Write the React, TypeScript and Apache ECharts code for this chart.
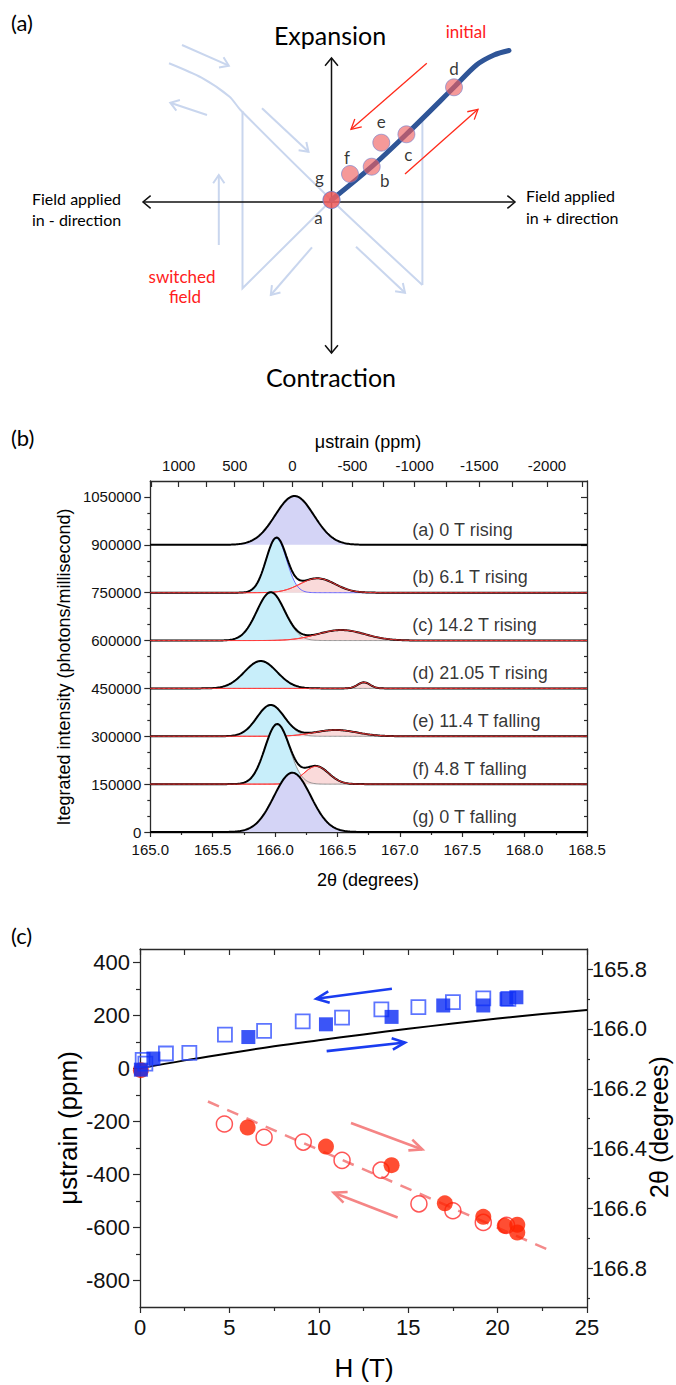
import React, { useEffect, useRef } from "react";
import * as echarts from "echarts";

const FONT = "'Liberation Sans', Arial, Helvetica, sans-serif";
const SCHEME_FONT = "Lato, 'Open Sans', 'DejaVu Sans', sans-serif";

// ---------------- (a) schematic: units = px offsets from the origin, y up ----------------
const stateNames = ["a", "b", "c", "d", "e", "f", "g"];
const stateX = [0, 40.2, 74.9, 122.5, 49.8, 18.5, 0];
const stateY = [2, 35.3, 67.7, 114.7, 59.3, 28, 2];
const pathX = [0, 40.2, 74.9, 122.5, 145, 162.5, 177.5];
const pathY = [2, 35.3, 67.7, 114.7, 137, 147, 151.5];
const ghostCurveX = [-162.5, -130, -101.9, -91, 0, 90.9];
const ghostCurveY = [138.7, 124.3, 105.3, 92, 2, -83];
const ghostEdges = [
  [[-89, 91], [-89, -86.3], [0, 2]],
  [[90.9, 82], [90.9, -83]],
];
const ghostArrows = [
  [[-149.5, 157], [-102.7, 136.3]],
  [[-124.5, 87], [-161.2, 99.3]],
  [[-69.5, 93.7], [-23, 50.3]],
  [[-112.7, -43], [-112.7, 27]],
  [[-19.5, -45.3], [-60.7, -93]],
  [[24.5, -44.7], [73.5, -90.7]],
];
const sweepArrows = [
  [[95.3, 138.7], [19.5, 72.7]],
  [[73.5, 28], [146.5, 92.7]],
];
const fieldAxis = [[-188.5, 0], [183.5, 0]];
const strainAxis = [[0, -151], [0, 144]];
const stateLabelOffset: Record<string, number[]> = {
  a: [-13, 17], b: [13, 14], c: [2, 20], d: [0, -19], e: [0, -21], f: [-3, -17], g: [-12, -23],
};

// ---------------- (b) fitted diffraction peaks ----------------
const traceNames = [
  "(a) 0 T rising", "(b) 6.1 T rising", "(c) 14.2 T rising", "(d) 21.05 T rising",
  "(e) 11.4 T falling", "(f) 4.8 T falling", "(g) 0 T falling",
];
const traceOffsets = [900000, 750000, 600000, 450000, 300000, 150000, 0];
const mainCenter = [166.156, 166.01, 165.965, 165.885, 165.965, 166.017, 166.139];
const mainHeight = [153000, 170000, 151000, 86000, 98000, 188000, 185800];
const mainSigma = [0.155, 0.082, 0.112, 0.13, 0.11, 0.098, 0.147];
const sideCenter = [0, 166.34, 166.53, 166.712, 166.486, 166.33, 0];
const sideHeight = [0, 45000, 33000, 19000, 19700, 56000, 0];
const sideSigma = [0, 0.14, 0.19, 0.05, 0.17, 0.1, 0];
const intensityTicks = [0, 150000, 300000, 450000, 600000, 750000, 900000, 1050000];
const strainTicks = [1000, 500, 0, -500, -1000, -1500, -2000];
const strainMinorTicks = [1250, 750, 250, -250, -750, -1250, -1750, -2250];
const zeroStrainTheta = 166.14;

// ---------------- (c) strain vs field ----------------
const theoryH = [0, 2.5, 5, 7.5, 10, 12.5, 15, 17.5, 20, 22.5, 25];
const theoryStrain = [0, 30, 57, 83, 106, 128, 149, 169, 188, 205, 220];
const fitLineH = [3.8, 23.1];
const fitLineStrain = [-125, -692];
const sqOpenH = [0.15, 0.3, 1.45, 2.76, 4.75, 6.94, 9.1, 11.3, 13.5, 15.57, 17.5, 19.2, 20.6];
const sqOpenStrain = [32, 18, 56, 58, 127, 141, 177, 191, 222, 231, 250, 264, 262];
const sqFilledH = [0.05, 0.75, 6.06, 10.4, 14.07, 16.96, 19.2, 20.5, 21.05];
const sqFilledStrain = [-5, 37, 118, 166, 194, 237, 237, 261, 268];
const cirOpenH = [4.72, 6.94, 9.13, 11.3, 13.48, 15.6, 17.5, 19.2, 20.5];
const cirOpenStrain = [-210, -260, -278, -347, -384, -511, -537, -581, -592];
const cirFilledH = [0.05, 6.02, 10.4, 14.07, 17.05, 19.2, 20.4, 21.1, 21.1];
const cirFilledStrain = [-7, -223, -295, -365, -509, -560, -594, -590, -619];
const blueArrows = [[[14.09, 300], [9.86, 262.5]], [[10.44, 65], [14.82, 97.5]]];
const redArrows = [[[11.8, -206], [15.79, -306]], [[14.41, -562.5], [10.83, -469]]];
const strainLabelValues = [-800, -600, -400, -200, 0, 200, 400];
const strainMinorValues = [-700, -500, -300, -100, 100, 300];
const thetaLabelValues = [165.8, 166.0, 166.2, 166.4, 166.6, 166.8];
const thetaMinorValues = [165.9, 166.1, 166.3, 166.5, 166.7, 166.9];

// ---------------- layout ----------------
const GA = { left: 131.5, top: 42, width: 400, height: 320 };
const GB = { left: 150.3, top: 481, width: 436.7, height: 351 };
const GC = { left: 140, top: 949, width: 447, height: 358 };
const C_MIN_STRAIN = -900, C_MAX_STRAIN = 450;

function strainToTheta(ppm: number) {
  const th0 = ((zeroStrainTheta / 2) * Math.PI) / 180;
  const s = Math.sin(th0) / (1 + ppm * 1e-6);
  return (2 * Math.asin(s) * 180) / Math.PI;
}
function thetaToStrain(t: number) {
  const th0 = ((zeroStrainTheta / 2) * Math.PI) / 180;
  const th = ((t / 2) * Math.PI) / 180;
  return Math.round(((Math.sin(th0) / Math.sin(th) - 1) * 1e6) / 50) * 50;
}

// open chevron head at the end of segment s->e; kx, ky = px per data unit
function chevron(s: number[], e: number[], kx: number, ky: number, len: number, ang: number) {
  const dx = (e[0] - s[0]) * kx, dy = (e[1] - s[1]) * ky;
  const L = Math.hypot(dx, dy);
  const bx = -dx / L, by = -dy / L;
  const rot = (a: number) => [
    e[0] + ((bx * Math.cos(a) - by * Math.sin(a)) * len) / kx,
    e[1] + ((bx * Math.sin(a) + by * Math.cos(a)) * len) / ky,
  ];
  return [rot(ang), e, rot(-ang)];
}
function arrowCoords(list: number[][][], kx: number, ky: number, len: number, ang: number, both = false) {
  const out: any[] = [];
  list.forEach(([s, e]) => {
    out.push({ coords: [s, e] });
    out.push({ coords: chevron(s, e, kx, ky, len, ang) });
    if (both) out.push({ coords: chevron(e, s, kx, ky, len, ang) });
  });
  return out;
}
const zip = (xs: number[], ys: number[]) => xs.map((x, i) => [x, ys[i]]);
const gauss = (t: number, c: number, h: number, s: number) =>
  h * Math.exp(-((t - c) * (t - c)) / (2 * s * s));

function buildOption() {
  const series: any[] = [];
  const pxA = { xAxisIndex: 0, yAxisIndex: 0 };

  // ----- (a) -----
  series.push({
    type: "line", ...pxA, data: zip(ghostCurveX, ghostCurveY), smooth: 0.25,
    showSymbol: false, silent: true, lineStyle: { color: "#c9d6ee", width: 2 }, z: 1,
  });
  series.push({
    type: "lines", coordinateSystem: "cartesian2d", ...pxA, polyline: true, silent: true, z: 1,
    lineStyle: { color: "#c9d6ee", width: 2, opacity: 1 },
    data: [...ghostEdges.map((c) => ({ coords: c })), ...arrowCoords(ghostArrows, 1, 1, 10, 0.6)],
  });
  series.push({
    type: "lines", coordinateSystem: "cartesian2d", ...pxA, polyline: true, silent: true, z: 2,
    lineStyle: { color: "#111", width: 1.5, opacity: 1 },
    data: arrowCoords([fieldAxis as any, strainAxis as any], 1, 1, 10, 0.7, true),
  });
  series.push({
    type: "line", ...pxA, data: zip(pathX, pathY), smooth: 0.3, showSymbol: false, silent: true,
    lineStyle: { color: "#2f5597", width: 5, cap: "round" }, z: 3,
  });
  series.push({
    type: "lines", coordinateSystem: "cartesian2d", ...pxA, polyline: true, silent: true, z: 3,
    lineStyle: { color: "#ff2a1a", width: 1.3, opacity: 1 },
    data: arrowCoords(sweepArrows, 1, 1, 11, 0.5),
  });
  series.push({
    type: "scatter", ...pxA, symbol: "circle", symbolSize: 17, z: 4, silent: true,
    itemStyle: { color: "rgba(240,95,95,0.8)", borderColor: "rgba(110,125,205,0.75)", borderWidth: 1 },
    data: stateNames.map((n, i) => ({
      name: n, value: [stateX[i], stateY[i]],
      label: {
        show: true, position: "inside", formatter: "{b}", offset: stateLabelOffset[n],
        fontSize: 17, color: "#000", fontFamily: SCHEME_FONT,
      },
    })),
  });

  // ----- (b) -----
  const grid: number[] = [];
  for (let k = 0; k <= 350; k++) grid.push(+(165 + k * 0.01).toFixed(2));
  const pxB = { xAxisIndex: 1, yAxisIndex: 1 };
  traceOffsets.forEach((off, i) => {
    const main = grid.map((t) => gauss(t, mainCenter[i], mainHeight[i], mainSigma[i]));
    const side = grid.map((t) => (sideHeight[i] > 0 ? gauss(t, sideCenter[i], sideHeight[i], sideSigma[i]) : 0));
    const total = grid.map((t, k) => [t, off + main[k] + side[k]]);
    const z = 2 + i;
    if (sideHeight[i] > 0) {
      series.push({
        type: "line", ...pxB, z, showSymbol: false, silent: true,
        data: grid.map((t, k) => [t, off + main[k]]),
        lineStyle: { color: i === 1 ? "#5a5aff" : "#8c8c8c", width: 0.9 },
        areaStyle: { color: "rgb(200,238,250)", origin: off, opacity: 1 },
      });
      series.push({
        type: "line", ...pxB, z, showSymbol: false, silent: true,
        data: grid.map((t, k) => [t, off + side[k]]),
        lineStyle: { color: "#ff3b3b", width: 1 },
        areaStyle: { color: "rgb(250,214,214)", origin: off, opacity: 0.9 },
      });
      series.push({
        type: "line", ...pxB, z, showSymbol: false, silent: true, data: total,
        lineStyle: { color: "#000", width: 2 },
      });
      series.push({
        type: "line", ...pxB, z, showSymbol: false, silent: true,
        data: grid.map((t, k) => [t, off + side[k]]),
        lineStyle: { color: "#ff3b3b", width: 1 },
      });
    } else {
      series.push({
        type: "line", ...pxB, z, showSymbol: false, silent: true, data: total,
        lineStyle: { color: "#000", width: 2 },
        areaStyle: { color: "rgb(212,212,246)", origin: off, opacity: 1 },
      });
    }
  });
  series.push({
    type: "scatter", ...pxB, symbolSize: 0, z: 20, silent: true,
    data: traceNames.map((n, i) => ({ name: n, value: [167.1, traceOffsets[i] + 48000] })),
    label: {
      show: true, position: "right", distance: 0, formatter: "{b}",
      fontSize: 18, color: "#000", fontFamily: FONT,
    },
  });

  // ----- (c) -----
  const pxC = { xAxisIndex: 3, yAxisIndex: 3 };
  const kx = GC.width / 25, ky = GC.height / (C_MAX_STRAIN - C_MIN_STRAIN);
  series.push({
    type: "line", ...pxC, data: zip(fitLineH, fitLineStrain), showSymbol: false, silent: true, z: 2,
    lineStyle: { color: "#f48a8a", width: 2.5, type: [12, 9] },
  });
  series.push({
    type: "line", ...pxC, data: zip(theoryH, theoryStrain), smooth: 0.4, showSymbol: false, silent: true, z: 2,
    lineStyle: { color: "#000", width: 2 },
  });
  series.push({
    type: "lines", coordinateSystem: "cartesian2d", ...pxC, polyline: true, silent: true, z: 3,
    lineStyle: { color: "#1a3cf0", width: 2.6, opacity: 1 },
    data: arrowCoords(blueArrows, kx, ky, 14, 0.42),
  });
  series.push({
    type: "lines", coordinateSystem: "cartesian2d", ...pxC, polyline: true, silent: true, z: 3,
    lineStyle: { color: "#f58585", width: 2.6, opacity: 1 },
    data: arrowCoords(redArrows, kx, ky, 14, 0.42),
  });
  series.push({
    type: "scatter", ...pxC, symbol: "circle", symbolSize: 16, z: 4, silent: true,
    itemStyle: { color: "rgba(255,255,255,0)", borderColor: "#ff2a2a", borderWidth: 1.5 },
    data: zip(cirOpenH, cirOpenStrain),
  });
  series.push({
    type: "scatter", ...pxC, symbol: "circle", symbolSize: 16, z: 4, silent: true,
    itemStyle: { color: "#ff2200" }, data: zip(cirFilledH, cirFilledStrain),
  });
  series.push({
    type: "scatter", ...pxC, symbol: "rect", symbolSize: 14, z: 4, silent: true,
    itemStyle: { color: "rgba(255,255,255,0)", borderColor: "#3552ff", borderWidth: 1.8 },
    data: zip(sqOpenH, sqOpenStrain),
  });
  series.push({
    type: "scatter", ...pxC, symbol: "rect", symbolSize: 14, z: 4, silent: true,
    itemStyle: { color: "#0a2af5" }, data: zip(sqFilledH, sqFilledStrain),
  });

  const axLine = { show: true, onZero: false, lineStyle: { color: "#2a2a2a", width: 1.3 } };
  const tickStyle = { color: "#2a2a2a", width: 1.2 };
  const lbl = (size: number, margin: number, extra: any = {}) => ({
    fontSize: size, margin, color: "#111", fontFamily: FONT, ...extra,
  });
  const none = { show: false };

  const xAxis: any[] = [
    { gridIndex: 0, type: "value", min: -200, max: 200, show: false },
    {
      gridIndex: 1, type: "value", position: "bottom", min: 165, max: 168.5, interval: 0.5,
      axisLine: axLine, splitLine: none,
      axisTick: { show: true, inside: false, length: 5, lineStyle: tickStyle },
      minorTick: { show: true, splitNumber: 2, length: 3, lineStyle: tickStyle },
      axisLabel: lbl(15, 10, { formatter: (v: number) => v.toFixed(1) }),
    },
    {
      gridIndex: 1, type: "value", position: "top", min: 165, max: 168.5,
      axisLine: axLine, splitLine: none,
      axisTick: {
        show: true, inside: true, length: 6, lineStyle: tickStyle,
        customValues: [...strainTicks, ...strainMinorTicks].map(strainToTheta),
      },
      axisLabel: lbl(15, 8, {
        customValues: strainTicks.map(strainToTheta),
        formatter: (v: number) => String(thetaToStrain(v)),
      }),
    },
    {
      gridIndex: 2, type: "value", position: "bottom", min: 0, max: 25, interval: 5,
      axisLine: axLine, splitLine: none,
      axisTick: { show: true, inside: false, length: 6, lineStyle: tickStyle },
      minorTick: { show: true, splitNumber: 2, length: 4, lineStyle: tickStyle },
      axisLabel: lbl(22, 9),
    },
    {
      gridIndex: 2, type: "value", position: "top", min: 0, max: 25, interval: 2.5,
      axisLine: axLine, splitLine: none,
      axisTick: { show: true, inside: true, length: 6, lineStyle: tickStyle },
      axisLabel: none,
    },
  ];
  const yAxis: any[] = [
    { gridIndex: 0, type: "value", min: -160, max: 160, show: false },
    {
      gridIndex: 1, type: "value", position: "left", min: 0, max: 1100000, interval: 150000,
      axisLine: axLine, splitLine: none,
      axisTick: { show: true, inside: false, length: 6, lineStyle: tickStyle, customValues: intensityTicks },
      minorTick: { show: true, splitNumber: 3, length: 3, lineStyle: tickStyle },
      axisLabel: lbl(15, 9, {
        customValues: intensityTicks,
        formatter: (v: number) => String(Math.round(v)),
      }),
    },
    {
      gridIndex: 1, type: "value", position: "right", min: 0, max: 1100000, interval: 150000,
      axisLine: axLine, splitLine: none,
      axisTick: { show: true, inside: true, length: 6, lineStyle: tickStyle, customValues: intensityTicks },
      minorTick: { show: true, splitNumber: 3, length: 3, lineStyle: tickStyle },
      axisLabel: none,
    },
    {
      gridIndex: 2, type: "value", position: "left", min: C_MIN_STRAIN, max: C_MAX_STRAIN,
      axisLine: axLine, splitLine: none,
      axisTick: { show: true, inside: false, length: 7, lineStyle: tickStyle, customValues: strainLabelValues },
      axisLabel: lbl(22, 10, { customValues: strainLabelValues }),
    },
    {
      gridIndex: 2, type: "value", position: "left", min: C_MIN_STRAIN, max: C_MAX_STRAIN,
      axisLine: { show: false, onZero: false }, splitLine: none, axisLabel: none,
      axisTick: { show: true, inside: false, length: 4, lineStyle: tickStyle, customValues: strainMinorValues },
    },
    {
      gridIndex: 2, type: "value", position: "right", inverse: true, min: 165.733, max: 166.929,
      axisLine: axLine, splitLine: none,
      axisTick: { show: true, inside: false, length: 6, lineStyle: tickStyle, customValues: thetaLabelValues },
      axisLabel: lbl(22, 5, { customValues: thetaLabelValues, formatter: (v: number) => v.toFixed(1) }),
    },
    {
      gridIndex: 2, type: "value", position: "right", inverse: true, min: 165.733, max: 166.929,
      axisLine: { show: false, onZero: false }, splitLine: none, axisLabel: none,
      axisTick: { show: true, inside: false, length: 3, lineStyle: tickStyle, customValues: thetaMinorValues },
    },
  ];

  const txt = (text: string, x: number, y: number, size: number, opts: any = {}) => ({
    type: "text", x, y, rotation: opts.rotation || 0, silent: true, z: 50,
    style: {
      text, fontSize: size, fontFamily: opts.font || SCHEME_FONT, fill: opts.color || "#000",
      align: opts.align || "center", verticalAlign: "middle",
    },
  });
  const graphic = [
    txt("(a)", 11, 22, 22, { align: "left" }),
    txt("(b)", 11, 437, 22, { align: "left" }),
    txt("(c)", 11, 935, 22, { align: "left" }),
    txt("Expansion", 330, 35, 25),
    txt("Contraction", 331, 377, 25),
    txt("initial", 466, 31, 17, { color: "#ff2020" }),
    txt("switched", 182, 276, 17, { color: "#ff2020" }),
    txt("field", 185, 296, 17, { color: "#ff2020" }),
    txt("Field applied", 32, 198, 16, { align: "left" }),
    txt("in - direction", 32, 219, 16, { align: "left" }),
    txt("Field applied", 526, 195, 16, { align: "left" }),
    txt("in + direction", 526, 217, 16, { align: "left" }),
    txt("μstrain (ppm)", 368, 442, 18, { font: FONT }),
    txt("2θ (degrees)", 368, 880, 18, { font: FONT }),
    txt("Itegrated intensity (photons/millisecond)", 64, 667, 18, { font: FONT, rotation: Math.PI / 2 }),
    txt("μstrain (ppm)", 68, 1128, 26, { font: FONT, rotation: Math.PI / 2 }),
    txt("2θ (degrees)", 659, 1127, 25, { font: FONT, rotation: Math.PI / 2 }),
    txt("H (T)", 364, 1368, 26, { font: FONT }),
  ];

  return {
    animation: false,
    backgroundColor: "#fff",
    grid: [
      { ...GA, outerBoundsMode: "none", containLabel: false },
      { ...GB, outerBoundsMode: "none", containLabel: false },
      { ...GC, outerBoundsMode: "none", containLabel: false },
    ],
    xAxis, yAxis, series, graphic,
  };
}

export default function App() {
  const ref = useRef<HTMLDivElement>(null);
  useEffect(() => {
    document.body.style.margin = "0";
    const chart = echarts.init(ref.current as HTMLDivElement, null, { renderer: "svg" });
    chart.setOption(buildOption() as any);
    return () => chart.dispose();
  }, []);
  return <div ref={ref} style={{ width: 676, height: 1385 }} />;
}
